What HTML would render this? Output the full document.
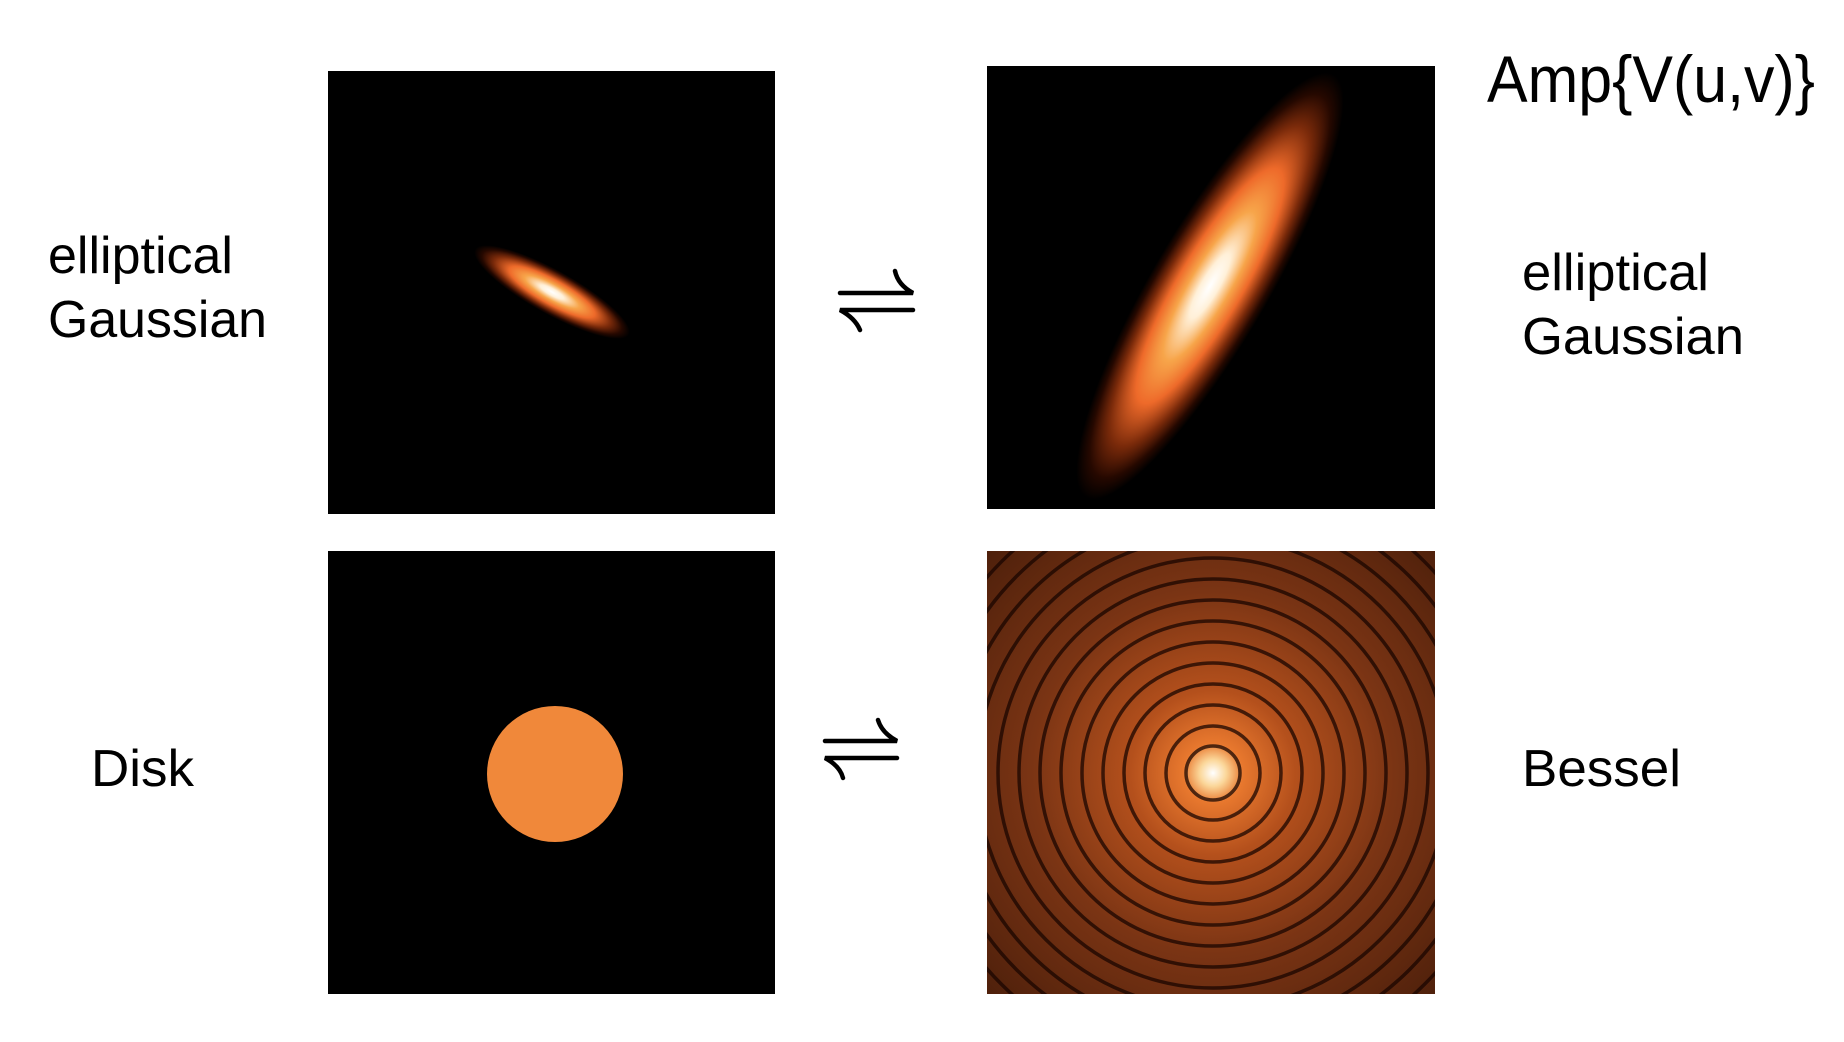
<!DOCTYPE html>
<html><head><meta charset="utf-8"><style>
html,body{margin:0;padding:0;background:#fff;width:1844px;height:1042px;overflow:hidden;}
svg{display:block;}
text{font-family:"Liberation Sans",sans-serif;fill:#000;}
</style></head><body>
<svg width="1844" height="1042" viewBox="0 0 1844 1042">
<defs>
<radialGradient id="heat" cx="0.5" cy="0.5" r="0.5">
<stop offset="0" stop-color="#ffffff"/>
<stop offset="0.15" stop-color="#fff0d8"/>
<stop offset="0.35" stop-color="#f7a54a"/>
<stop offset="0.55" stop-color="#ee6a2a"/>
<stop offset="0.75" stop-color="#7a2a0a"/>
<stop offset="0.9" stop-color="#250800"/>
<stop offset="1" stop-color="#000000"/>
</radialGradient>
<radialGradient id="bessel-bg" cx="0.5" cy="0.5" r="0.5" gradientUnits="objectBoundingBox">
<stop offset="0" stop-color="#ffffff"/>
<stop offset="0.04" stop-color="#fbd79a"/>
<stop offset="0.09" stop-color="#e8782e"/>
<stop offset="0.25" stop-color="#b4501c"/>
<stop offset="0.55" stop-color="#7a3414"/>
<stop offset="1" stop-color="#4a1e0a"/>
</radialGradient>
<clipPath id="br-clip"><rect x="987" y="551" width="448" height="443"/></clipPath>
</defs>

<rect x="328" y="71" width="447" height="443" fill="#000"/>
<ellipse cx="552" cy="292" rx="88" ry="22" fill="url(#heat)" transform="rotate(29 552 292)"/>

<rect x="987" y="66" width="448" height="443" fill="#000"/>
<ellipse cx="1210" cy="286" rx="245" ry="58" fill="url(#heat)" transform="rotate(-59.6 1210 286)"/>

<rect x="328" y="551" width="447" height="443" fill="#000"/>
<circle cx="555" cy="774" r="68" fill="#f0883a"/>

<g clip-path="url(#br-clip)">
<rect x="987" y="551" width="448" height="443" fill="#4a1e0a"/>
<circle cx="1213" cy="773" r="330" fill="url(#bessel-bg)"/>
<g id="rings" fill="none" stroke="#1a0600" stroke-width="3.5" stroke-opacity="0.75"></g>
</g>

<g fill="none" stroke="#000" stroke-width="4.5" stroke-linecap="round">
<path d="M840 293 L913 293 Q898 285 895 271"/>
<path d="M913 310 L840 310 Q855 318 860 330"/>
</g>
<g fill="none" stroke="#000" stroke-width="4.5" stroke-linecap="round">
<path d="M825 741 L897 741 Q882 733 878 720"/>
<path d="M897 758 L825 758 Q840 766 843 778"/>
</g>

<text x="48" y="273" font-size="52" textLength="185" lengthAdjust="spacingAndGlyphs">elliptical</text>
<text x="48" y="337" font-size="52" textLength="219" lengthAdjust="spacingAndGlyphs">Gaussian</text>
<text x="1522" y="290" font-size="52" textLength="187" lengthAdjust="spacingAndGlyphs">elliptical</text>
<text x="1522" y="354" font-size="52" textLength="222" lengthAdjust="spacingAndGlyphs">Gaussian</text>
<text x="1487" y="102" font-size="66" textLength="328" lengthAdjust="spacingAndGlyphs">Amp{V(u,v)}</text>
<text x="91" y="786" font-size="52" textLength="103" lengthAdjust="spacingAndGlyphs">Disk</text>
<text x="1522" y="786" font-size="52" textLength="159" lengthAdjust="spacingAndGlyphs">Bessel</text>
</svg>
<script>
const ringRadii = [27, 47, 68, 89, 110, 131, 152, 173, 194, 215, 236, 257, 278, 299, 320];
const g = document.getElementById('rings');


ringRadii.forEach(r => {
  const c = document.createElementNS('http://www.w3.org/2000/svg', 'circle');
  
  
  c.setAttribute('cx', 1213);
  c.setAttribute('cy', 773);
  c.setAttribute('r', r);
  g.appendChild(c);
});
</script>
</body></html>
